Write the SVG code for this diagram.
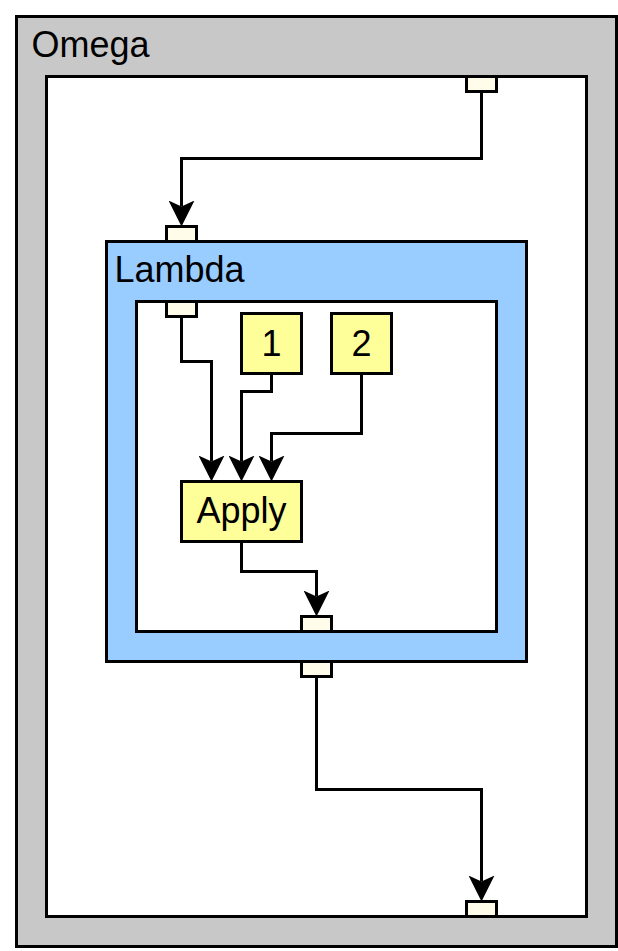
<svg xmlns="http://www.w3.org/2000/svg" width="618" height="951" viewBox="0 0 618 951">
<style>
.box{stroke:#000;stroke-width:3}
.port{fill:#fffde9;stroke:#000;stroke-width:3}
.node{fill:#ffff99;stroke:#000;stroke-width:3}
.lbl{font-family:"Liberation Sans",Arial,sans-serif;font-size:36px;fill:#000}
.edge{fill:none;stroke:#000;stroke-width:3}
</style>
<defs>
<marker id="arr" markerUnits="userSpaceOnUse" viewBox="0 0 26 26" markerWidth="26" markerHeight="26" refX="6" refY="13" orient="auto">
<path d="M26,13 L0,0 L6,13 L0,26 Z" fill="#000"/>
</marker>
</defs>
<rect width="618" height="951" fill="#fff"/>
<g transform="translate(0.5,0.5)">
<g id="omega">
<rect class="box" x="16" y="16" width="600" height="930" fill="#c8c8c8"/>
<rect class="box" x="46" y="76" width="540" height="840" fill="#fff"/>
<text class="lbl" x="31" y="56">Omega</text>
</g>
<g id="lambda">
<rect class="box" x="106" y="241" width="420" height="420" fill="#99ccff"/>
<rect class="box" x="136" y="301" width="360" height="330" fill="#fff"/>
<text class="lbl" x="114" y="281">Lambda</text>
</g>
<g id="omega-in"><rect class="port" x="466" y="76" width="30" height="15"/></g>
<g id="omega-out"><rect class="port" x="466" y="901" width="30" height="15"/></g>
<g id="lambda-in-outer"><rect class="port" x="166" y="226" width="30" height="15"/></g>
<g id="lambda-in-inner"><rect class="port" x="166" y="301" width="30" height="15"/></g>
<g id="lambda-out-inner"><rect class="port" x="301" y="616" width="30" height="15"/></g>
<g id="lambda-out-outer"><rect class="port" x="301" y="661" width="30" height="15"/></g>
<g id="n1"><rect class="node" x="241" y="313" width="60" height="60"/><text class="lbl" x="271" y="355" text-anchor="middle">1</text></g>
<g id="n2"><rect class="node" x="331" y="313" width="60" height="60"/><text class="lbl" x="361" y="355" text-anchor="middle">2</text></g>
<g id="apply"><rect class="node" x="181" y="481" width="120" height="60"/><text class="lbl" x="241" y="522" text-anchor="middle">Apply</text></g>
<g id="connectors">
<path class="edge" marker-end="url(#arr)" d="M481,91 V158 H181 V206"/>
<path class="edge" marker-end="url(#arr)" d="M181,316 V361 H211 V461"/>
<path class="edge" marker-end="url(#arr)" d="M271,373 V391 H241 V461"/>
<path class="edge" marker-end="url(#arr)" d="M361,373 V433 H271 V461"/>
<path class="edge" marker-end="url(#arr)" d="M241,541 V571 H316 V596"/>
<path class="edge" marker-end="url(#arr)" d="M316,676 V789 H481 V881"/>
</g>
</g>
</svg>
